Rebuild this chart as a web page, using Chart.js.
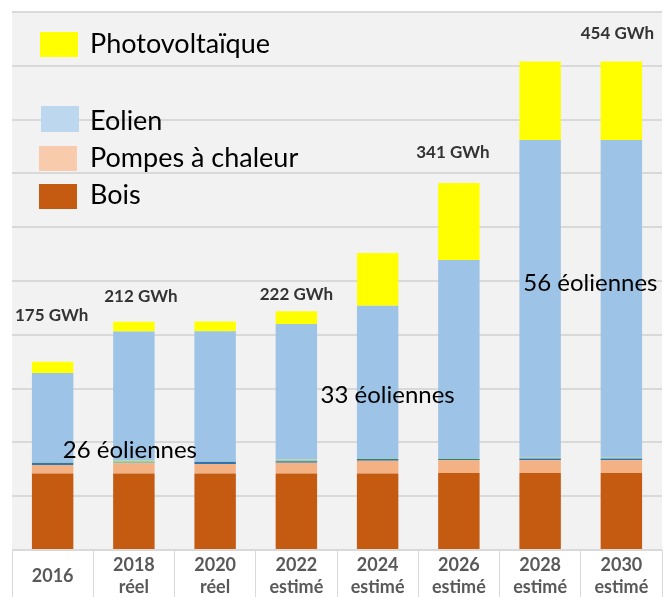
<!DOCTYPE html>
<html>
<head>
<meta charset="utf-8">
<script src="https://cdn.jsdelivr.net/npm/chart.js@4/dist/chart.umd.min.js"></script>
<style>
html, body { margin: 0; padding: 0; background: #fff; }
</style>
</head>
<body>
<canvas id="energyChart" width="665" height="597"></canvas>
<script>
// categories
const years = ['2016', ['2018', 'réel'], ['2020', 'réel'], ['2022', 'estimé'], ['2024', 'estimé'], ['2026', 'estimé'], ['2028', 'estimé'], ['2030', 'estimé']];

// GWh per source
const bois = [71, 71, 71, 71, 71, 71.5, 71.5, 71.5];
const pompes = [8, 9.6, 9, 10, 12, 12, 12, 12];
const autresBleu = [2, 0.5, 2, 1.5, 1.5, 1, 1.5, 1.5];
const autresVert = [0.5, 2, 0.3, 1.5, 1, 1, 1, 1];
const eolien = [83, 120, 121, 126, 141.5, 184, 295, 295];
const photovoltaique = [10.5, 9, 9, 12, 49, 71.5, 73, 73];

// annotations
const totalLabels = ['175 GWh', '212 GWh', '', '222 GWh', '', '341 GWh', '', '454 GWh'];
const windTurbines = [26, 33, 56];

// y axis
const yMax = 500;
const yStep = 50;

// where the annotations sit (layout only)
const totalOffsets = [[-1, -46], [7, -25], null, [0, -17], null, [-6, -31], null, [-4, -28]];
const windSpots = [[1, -4, 93], [4, 10, 144], [7, -31, 248]];
const legendSpots = {
	'Photovoltaïque': { box: [40, 32, 38, 25], text: [90, 44] },
	'Eolien': { box: [41, 106, 38, 26], text: [90, 121] },
	'Pompes à chaleur': { box: [39, 146, 38, 25], text: [90, 158] },
	'Bois': { box: [39, 184, 38, 25], text: [90, 195] }
};

const FONT = 'Lato, "Open Sans", sans-serif';

const bgPlugin = {
	id: 'bg',
	beforeDraw(chart) {
		const ctx = chart.ctx;
		const a = chart.chartArea;
		ctx.save();
		ctx.fillStyle = '#ffffff';
		ctx.fillRect(0, 0, chart.width, chart.height);
		ctx.fillStyle = '#f2f2f2';
		ctx.fillRect(a.left, a.top, a.right - a.left, a.bottom - a.top);
		ctx.restore();
	}
};

const notesPlugin = {
	id: 'notes',
	afterDatasetsDraw(chart) {
		const ctx = chart.ctx;
		const x = chart.scales.x;
		const y = chart.scales.y;
		const sets = chart.data.datasets;
		ctx.save();
		ctx.textBaseline = 'middle';

		// totals above bars
		ctx.font = 'bold 17px ' + FONT;
		ctx.fillStyle = '#333333';
		ctx.textAlign = 'center';
		totalLabels.forEach((t, i) => {
			if (!t) return;
			let sum = 0;
			sets.forEach(ds => { sum += ds.data[i]; });
			const off = totalOffsets[i];
			ctx.fillText(t, x.getPixelForValue(i) + off[0], y.getPixelForValue(sum) + off[1]);
		});

		// wind turbine counts
		ctx.font = '24px ' + FONT;
		ctx.fillStyle = '#000000';
		windTurbines.forEach((n, k) => {
			const s = windSpots[k];
			ctx.fillText(n + ' éoliennes', x.getPixelForValue(s[0]) + s[1], y.getPixelForValue(s[2]));
		});

		// legend
		ctx.textAlign = 'left';
		ctx.font = '27px ' + FONT;
		sets.forEach(ds => {
			const spot = legendSpots[ds.label];
			if (!spot) return;
			ctx.fillStyle = ds.legendColor;
			ctx.fillRect(spot.box[0], spot.box[1], spot.box[2], spot.box[3]);
			ctx.fillStyle = '#000000';
			ctx.fillText(ds.label, spot.text[0], spot.text[1]);
		});
		ctx.restore();
	}
};

const dataStack = {
	labels: years,
	datasets: [
		{ label: 'Bois', data: bois, backgroundColor: '#c55a11', legendColor: '#c55a11' },
		{ label: 'Pompes à chaleur', data: pompes, backgroundColor: '#f4b183', legendColor: '#f8cbad' },
		{ label: 'Autres', data: autresBleu, backgroundColor: '#2e75b6' },
		{ label: 'Autres 2', data: autresVert, backgroundColor: '#a9d18e' },
		{ label: 'Eolien', data: eolien, backgroundColor: '#9dc3e6', legendColor: '#bdd7ee' },
		{ label: 'Photovoltaïque', data: photovoltaique, backgroundColor: '#ffff00', legendColor: '#ffff00' }
	]
};

const optionsStack = {
	responsive: false,
	animation: false,
	devicePixelRatio: 1,
	layout: { padding: { top: 12, left: 12, right: 3, bottom: 0 } },
	datasets: { bar: { barPercentage: 0.51, categoryPercentage: 1, borderWidth: 0 } },
	plugins: { legend: { display: false }, tooltip: { enabled: false } },
	scales: {
		x: {
			stacked: true,
			afterFit(scale) { scale.height = 47; },
			border: { display: true, color: '#d9d9d9', width: 1 },
			grid: { offset: true, drawOnChartArea: false, drawTicks: true, tickLength: 47, color: '#d9d9d9', lineWidth: 1 },
			ticks: {
				autoSkip: false,
				maxRotation: 0,
				crossAlign: 'center',
				padding: -32,
				color: '#595959',
				font: { family: FONT, size: 18, weight: 'bold', lineHeight: 1.22 }
			}
		},
		y: {
			stacked: true,
			min: 0,
			max: yMax,
			afterFit(scale) { scale.width = 0; },
			border: { display: false },
			grid: { drawTicks: false, color: '#d9d9d9', lineWidth: 2 },
			ticks: { display: false, stepSize: yStep }
		}
	}
};

const chartStack = new Chart(document.getElementById('energyChart'), {
	type: 'bar',
	data: dataStack,
	options: optionsStack,
	plugins: [bgPlugin, notesPlugin]
});
</script>
</body>
</html>
